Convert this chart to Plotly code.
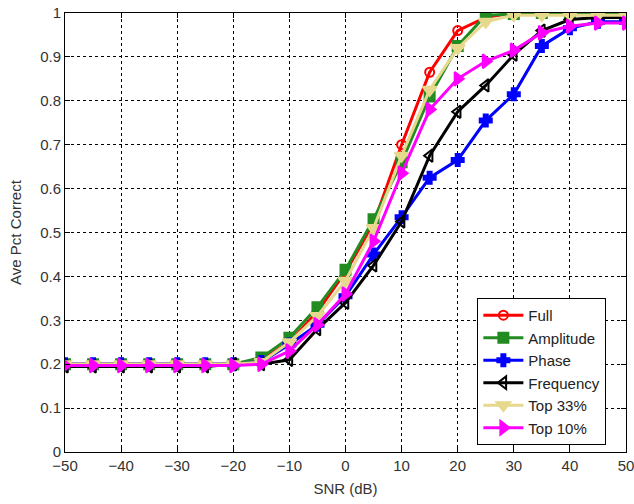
import plotly.graph_objects as go

snr = [-50, -45, -40, -35, -30, -25, -20, -15, -10, -5, 0, 5, 10, 15, 20, 25, 30, 35, 40, 45, 50]

full = [0.2, 0.2, 0.2, 0.2, 0.2, 0.2, 0.2, 0.21, 0.25, 0.32, 0.41, 0.52, 0.70, 0.865, 0.96, 0.99, 1.0, 1.0, 1.0, 1.0, 1.0]
amplitude = [0.2, 0.2, 0.2, 0.2, 0.2, 0.2, 0.2, 0.215, 0.26, 0.33, 0.415, 0.53, 0.66, 0.81, 0.925, 0.995, 0.998, 1.0, 1.0, 1.0, 1.0]
phase = [0.2, 0.2, 0.2, 0.2, 0.2, 0.2, 0.2, 0.205, 0.245, 0.29, 0.355, 0.45, 0.535, 0.625, 0.665, 0.755, 0.815, 0.925, 0.965, 0.98, 0.98]
frequency = [0.195, 0.195, 0.195, 0.195, 0.195, 0.195, 0.2, 0.2, 0.21, 0.28, 0.34, 0.425, 0.525, 0.675, 0.775, 0.835, 0.905, 0.96, 0.985, 0.99, 0.99]
top33 = [0.2, 0.2, 0.2, 0.2, 0.2, 0.2, 0.2, 0.205, 0.25, 0.31, 0.39, 0.51, 0.675, 0.825, 0.92, 0.98, 0.995, 0.995, 0.995, 0.995, 0.995]
top10 = [0.197, 0.197, 0.197, 0.197, 0.197, 0.197, 0.197, 0.2, 0.23, 0.29, 0.36, 0.48, 0.635, 0.78, 0.85, 0.89, 0.915, 0.955, 0.97, 0.977, 0.977]

x_ticks = [-50, -40, -30, -20, -10, 0, 10, 20, 30, 40, 50]
y_ticks = [0, 0.1, 0.2, 0.3, 0.4, 0.5, 0.6, 0.7, 0.8, 0.9, 1]
y_tick_labels = ["0", "0.1", "0.2", "0.3", "0.4", "0.5", "0.6", "0.7", "0.8", "0.9", "1"]

series = [
    ("Full", full, "#ff0000", "circle-open", 9),
    ("Amplitude", amplitude, "#228b22", "square", 10),
    ("Phase", phase, "#0000ff", "cross", 10),
    ("Frequency", frequency, "#000000", "triangle-left-open", 11),
    ("Top 33%", top33, "#e6d88c", "triangle-down", 12),
    ("Top 10%", top10, "#ff00ff", "triangle-right", 12),
]

fig = go.Figure()
for name, ys, color, sym, size in series:
    fig.add_trace(go.Scatter(
        x=snr, y=ys, name=name, mode="lines+markers",
        line=dict(color=color, width=3),
        marker=dict(symbol=sym, size=size, color=color,
                    line=dict(color=color, width=2)),
    ))

axis_common = dict(
    showline=True, linecolor="black", linewidth=1, mirror="ticks",
    ticks="inside", ticklen=5, tickcolor="black",
    showgrid=True, gridcolor="black", griddash="dot", gridwidth=1,
    zeroline=False, automargin=False, ticklabeloverflow="allow",
    tickfont=dict(family="Liberation Sans, Arial", size=15, color="#333"),
)

fig.update_layout(
    width=634, height=504,
    margin=dict(l=65, r=8, t=13, b=52),
    paper_bgcolor="white", plot_bgcolor="white",
    font=dict(family="Liberation Sans, Arial", size=15, color="#333"),
    xaxis=dict(range=[-50, 50], tickvals=x_ticks,
               title=dict(text="SNR (dB)", standoff=10, font=dict(size=15)),
               **axis_common),
    yaxis=dict(range=[0, 1], tickvals=y_ticks, ticktext=y_tick_labels,
               title=dict(text="Ave Pct Correct", standoff=14, font=dict(size=15)),
               **axis_common),
    legend=dict(x=0.965, y=0.016, xanchor="right", yanchor="bottom",
                bgcolor="white", bordercolor="black", borderwidth=1,
                font=dict(size=15, color="#222"), tracegroupgap=0,
                itemwidth=40),
    showlegend=True,
)

fig.write_html("out.html", config={"displayModeBar": False},
               post_script="document.body.style.margin='0px';document.body.style.padding='0px';")
